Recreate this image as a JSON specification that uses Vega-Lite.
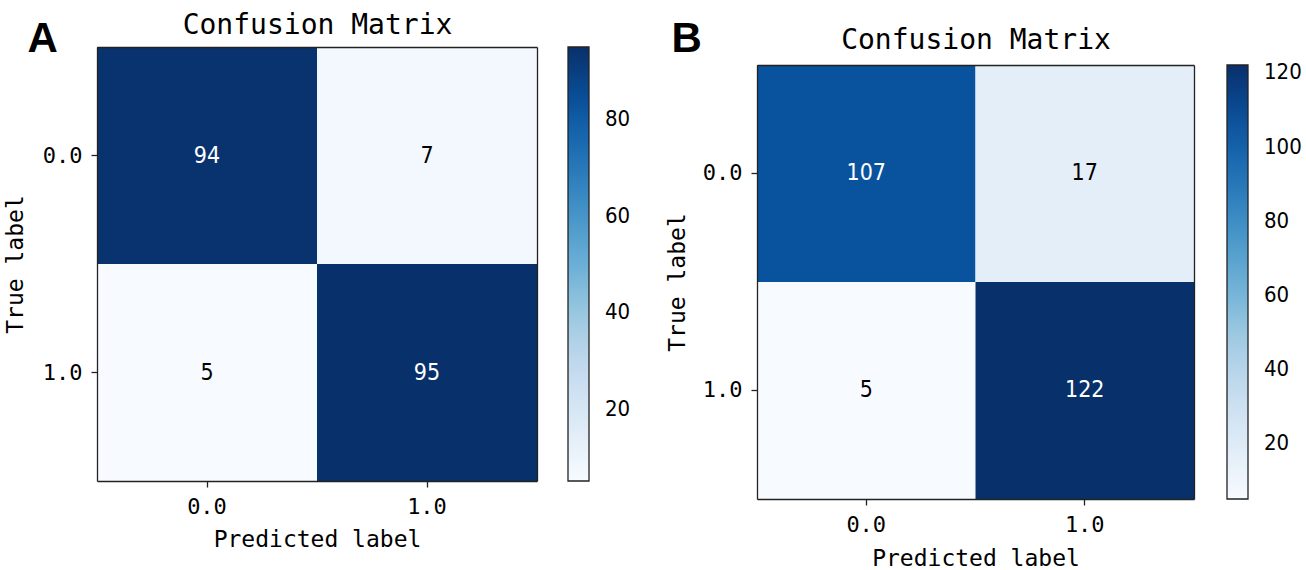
{
  "$schema": "https://vega.github.io/schema/vega-lite/v6.json",
  "background": "white",
  "padding": {"left": 4, "top": 11, "right": 0, "bottom": 0},
  "spacing": 35,
  "resolve": {"scale": {"color": "independent"}, "legend": {"color": "independent"}},
  "config": {
    "view": {"stroke": null},
    "scale": {"bandPaddingInner": 0, "bandPaddingOuter": 0},
    "axis": {"grid": false}
  },
  "datasets": {
    "a": [
      {"pred": "0.0", "true": "0.0", "v": 94},
      {"pred": "1.0", "true": "0.0", "v": 7},
      {"pred": "0.0", "true": "1.0", "v": 5},
      {"pred": "1.0", "true": "1.0", "v": 95}
    ],
    "b": [
      {"pred": "0.0", "true": "0.0", "v": 107},
      {"pred": "1.0", "true": "0.0", "v": 17},
      {"pred": "0.0", "true": "1.0", "v": 5},
      {"pred": "1.0", "true": "1.0", "v": 122}
    ]
  },
  "hconcat": [
    {
      "width": 440,
      "height": 434,
      "data": {"name": "a"},
      "layer": [
        {
          "mark": {"type": "rect"},
          "encoding": {
            "x": {"field": "pred", "type": "nominal", "axis": {"orient": "bottom", "title": "Predicted label", "labelAngle": 0, "labelFont": "DejaVu Sans Mono", "labelFontSize": 22, "labelColor": "black", "labelPadding": 9, "tickSize": 6, "tickColor": "#222", "tickWidth": 1.3, "domain": true, "domainColor": "#222", "domainWidth": 1.3, "titleFont": "DejaVu Sans Mono", "titleFontSize": 23, "titleFontWeight": "normal", "titleColor": "black", "titleY": 65, "titleBaseline": "alphabetic", "zindex": 1}},
            "y": {"field": "true", "type": "nominal", "axis": {"orient": "left", "title": "True label", "labelAngle": 0, "labelFont": "DejaVu Sans Mono", "labelFontSize": 22, "labelColor": "black", "labelPadding": 9, "tickSize": 6, "tickColor": "#222", "tickWidth": 1.3, "domain": true, "domainColor": "#222", "domainWidth": 1.3, "titleFont": "DejaVu Sans Mono", "titleFontSize": 23, "titleFontWeight": "normal", "titleColor": "black", "titleX": -75, "titleAngle": 270, "titleBaseline": "alphabetic", "zindex": 1}},
            "color": {"field": "v", "type": "quantitative", "scale": {"range": ["#f7fbff", "#deebf7", "#c6dbef", "#9ecae1", "#6baed6", "#4292c6", "#2171b5", "#08519c", "#08306b"], "zero": false, "nice": false},
              "legend": {"title": null, "orient": "right", "direction": "vertical", "gradientLength": 434, "gradientThickness": 21, "gradientStrokeColor": "#222", "gradientStrokeWidth": 1.3, "offset": 31, "values": [20, 40, 60, 80], "labelFont": "DejaVu Sans Condensed, Liberation Sans, sans-serif", "labelFontSize": 22, "labelColor": "black", "labelOffset": 16, "labelOverlap": false, "labelBaseline": "middle", "padding": 0}}
          }
        },
        {
          "mark": {"type": "text", "font": "DejaVu Sans Condensed, Liberation Sans, sans-serif", "fontSize": 23, "align": "center", "baseline": "middle"},
          "encoding": {
            "x": {"field": "pred", "type": "nominal", "axis": {"orient": "top", "labels": false, "ticks": false, "domain": true, "domainColor": "#222", "domainWidth": 1.3, "title": "Confusion Matrix", "titleFont": "DejaVu Sans Mono", "titleFontSize": 28, "titleFontWeight": "normal", "titleColor": "black", "titleY": -14, "titleBaseline": "alphabetic", "zindex": 1}},
            "y": {"field": "true", "type": "nominal", "axis": {"orient": "right", "labels": false, "ticks": false, "domain": true, "domainColor": "#222", "domainWidth": 1.3, "title": "A", "titleAngle": 0, "titleX": -510, "titleY": 4, "titleAlign": "left", "titleBaseline": "alphabetic", "titleFont": "Liberation Sans", "titleFontSize": 42, "titleFontWeight": "bold", "titleColor": "black", "zindex": 1}},
            "text": {"field": "v", "type": "quantitative"},
            "color": {"condition": {"test": "datum.v > 60", "value": "white"}, "value": "black"}
          }
        }
      ],
      "resolve": {"axis": {"x": "independent", "y": "independent"}}
    },
    {
      "width": 437,
      "height": 452,
      "data": {"name": "b"},
      "layer": [
        {
          "mark": {"type": "rect"},
          "encoding": {
            "x": {"field": "pred", "type": "nominal", "axis": {"orient": "bottom", "title": "Predicted label", "labelAngle": 0, "labelFont": "DejaVu Sans Mono", "labelFontSize": 22, "labelColor": "black", "labelPadding": 9, "tickSize": 6, "tickColor": "#222", "tickWidth": 1.3, "domain": true, "domainColor": "#222", "domainWidth": 1.3, "titleFont": "DejaVu Sans Mono", "titleFontSize": 23, "titleFontWeight": "normal", "titleColor": "black", "titleY": 66, "titleBaseline": "alphabetic", "zindex": 1}},
            "y": {"field": "true", "type": "nominal", "scale": {"paddingInner": 0, "paddingOuter": 0.04147, "align": 1}, "axis": {"orient": "left", "title": "True label", "labelAngle": 0, "labelFont": "DejaVu Sans Mono", "labelFontSize": 22, "labelColor": "black", "labelPadding": 9, "tickSize": 6, "tickColor": "#222", "tickWidth": 1.3, "domain": true, "domainColor": "#222", "domainWidth": 1.3, "domainDash": [0, 18, 600], "titleFont": "DejaVu Sans Mono", "titleFontSize": 23, "titleFontWeight": "normal", "titleColor": "black", "titleX": -73, "titleY": 235, "titleAngle": 270, "titleBaseline": "alphabetic", "zindex": 1}},
            "color": {"field": "v", "type": "quantitative", "scale": {"range": ["#f7fbff", "#deebf7", "#c6dbef", "#9ecae1", "#6baed6", "#4292c6", "#2171b5", "#08519c", "#08306b"], "zero": false, "nice": false},
              "legend": {"title": null, "orient": "none", "legendX": 470, "legendY": 18, "direction": "vertical", "gradientLength": 434, "gradientThickness": 21, "gradientStrokeColor": "#222", "gradientStrokeWidth": 1.3, "values": [20, 40, 60, 80, 100, 120], "labelFont": "DejaVu Sans Condensed, Liberation Sans, sans-serif", "labelFontSize": 22, "labelColor": "black", "labelOffset": 16, "labelOverlap": false, "labelBaseline": "middle", "padding": 0}}
          }
        },
        {
          "mark": {"type": "text", "font": "DejaVu Sans Condensed, Liberation Sans, sans-serif", "fontSize": 23, "align": "center", "baseline": "middle"},
          "encoding": {
            "x": {"field": "pred", "type": "nominal", "axis": {"orient": "top", "offset": -18, "labels": false, "ticks": false, "domain": true, "domainColor": "#222", "domainWidth": 1.3, "title": "Confusion Matrix", "titleFont": "DejaVu Sans Mono", "titleFontSize": 28, "titleFontWeight": "normal", "titleColor": "black", "titleY": -17, "titleBaseline": "alphabetic", "zindex": 1}},
            "y": {"field": "true", "type": "nominal", "axis": {"orient": "right", "labels": false, "ticks": false, "domain": true, "domainColor": "#222", "domainWidth": 1.3, "domainDash": [0, 18, 600], "title": "B", "titleAngle": 0, "titleX": -523, "titleY": 4, "titleAlign": "left", "titleBaseline": "alphabetic", "titleFont": "Liberation Sans", "titleFontSize": 42, "titleFontWeight": "bold", "titleColor": "black", "zindex": 1}},
            "text": {"field": "v", "type": "quantitative"},
            "color": {"condition": {"test": "datum.v > 60", "value": "white"}, "value": "black"}
          }
        }
      ],
      "resolve": {"axis": {"x": "independent", "y": "independent"}}
    }
  ]
}
